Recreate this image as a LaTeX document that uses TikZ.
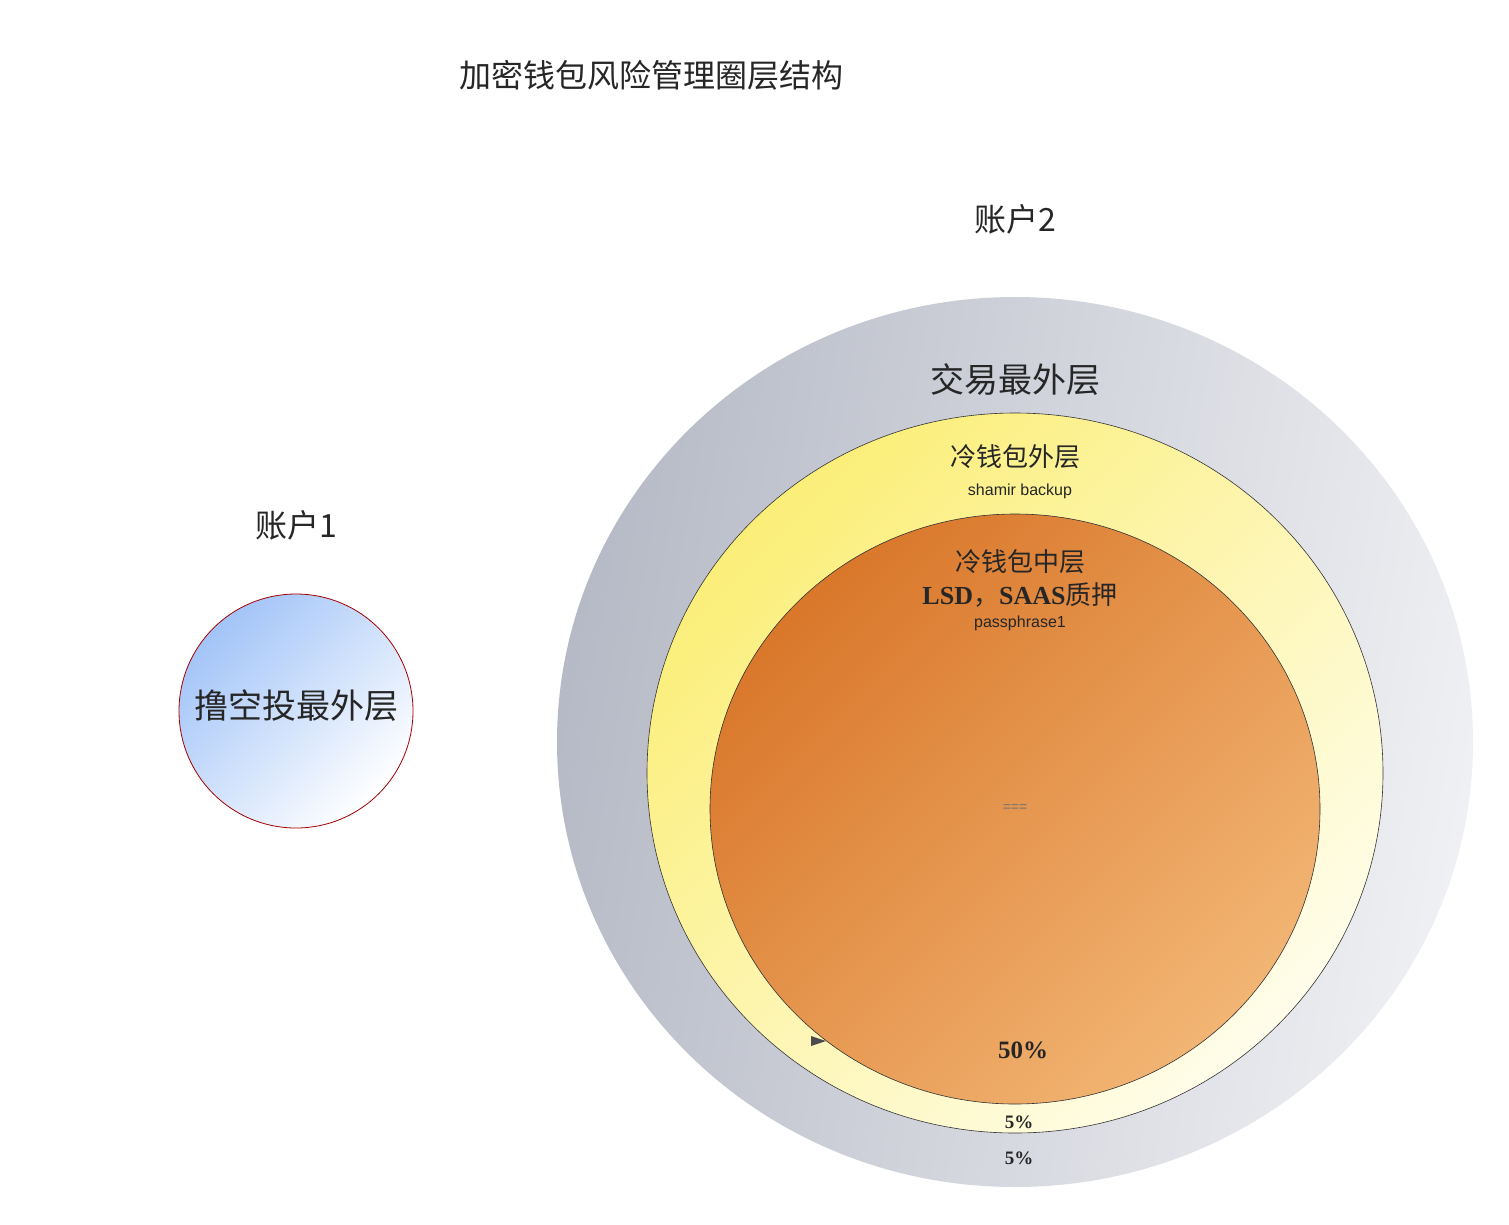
\documentclass[tikz,border=0pt]{standalone}
\usepackage{fontspec}
\setmainfont{Liberation Serif}
\setsansfont{Liberation Sans}
\newfontfamily\cjk{Noto Sans CJK SC}
\definecolor{gdark}{HTML}{B6BAC6}
\definecolor{glight}{HTML}{EFF0F3}
\definecolor{ydark}{HTML}{FBEE78}
\definecolor{ylight}{HTML}{FFFDEA}
\definecolor{odark}{HTML}{D9772A}
\definecolor{olight}{HTML}{F2B574}
\definecolor{bdark}{HTML}{A2C4F8}
\begin{document}
\begin{tikzpicture}[x=1pt,y=-1pt,
  lbl/.style={inner sep=0pt,text=black!85},
  ring/.style={draw=black!80,line width=0.6pt}]
\useasboundingbox (0,0) rectangle (1509,1224);
\fill[white] (0,0) rectangle (1509,1224);
% outer gray
\shade[left color=gdark, right color=glight, shading angle=80]
  (1015,742) ellipse [x radius=458, y radius=445];
\node[lbl,font=\cjk\fontsize{34}{40}\selectfont] (outer) at (1015,380) {交易最外层};
% yellow
\shade[ring, left color=ydark, right color=ylight, shading angle=45]
  (1015,773) ellipse [x radius=368, y radius=360];
\node[lbl,font=\cjk\fontsize{26}{30}\selectfont] (cold1) at (1015,457) {冷钱包外层};
\node[lbl,font=\sffamily\fontsize{16}{18}\selectfont] (shamir) at (1020,491) {shamir backup};
% orange
\shade[ring, left color=odark, right color=olight, shading angle=45]
  (1015,809) ellipse [x radius=305, y radius=295];
\node[lbl,font=\cjk\fontsize{26}{30}\selectfont] (cold2) at (1020,562) {冷钱包中层};
\node[lbl,font=\fontsize{26}{30}\selectfont] (lsd) at (1020,595) {\textbf{LSD}{\cjk ，}\textbf{SAAS}{\cjk 质押}};
\node[lbl,font=\sffamily\fontsize{16}{18}\selectfont] (pp) at (1020,623) {passphrase1};
\node[lbl,font=\sffamily\fontsize{14}{16}\selectfont,text=black!55] (eq) at (1015,808) {===};
\node[lbl,font=\bfseries\fontsize{25}{28}\selectfont] (p50) at (1023,1050) {50\%};
\node[lbl,font=\bfseries\fontsize{19}{22}\selectfont] (p5a) at (1019,1122) {5\%};
\node[lbl,font=\bfseries\fontsize{19}{22}\selectfont] (p5b) at (1019,1158) {5\%};
\coordinate (t1) at (811,1036);
\coordinate (t2) at (811,1046);
\coordinate (t3) at (826,1041);
\fill[black!70] (t1) -- (t2) -- (t3) -- cycle;
% blue circle
\shade[draw=red!65!black,line width=0.8pt, left color=bdark, right color=white, shading angle=45]
  (296,711) circle [radius=117];
\node[lbl,font=\cjk\fontsize{34}{40}\selectfont] (air) at (296,706) {撸空投最外层};
% labels
\node[lbl,font=\cjk\fontsize{32}{38}\selectfont] (title) at (651,75) {加密钱包风险管理圈层结构};
\node[lbl,font=\cjk\fontsize{32}{38}\selectfont] (acc2) at (1015,219) {账户2};
\node[lbl,font=\cjk\fontsize{32}{38}\selectfont] (acc1) at (296,525) {账户1};
\end{tikzpicture}
\end{document}
